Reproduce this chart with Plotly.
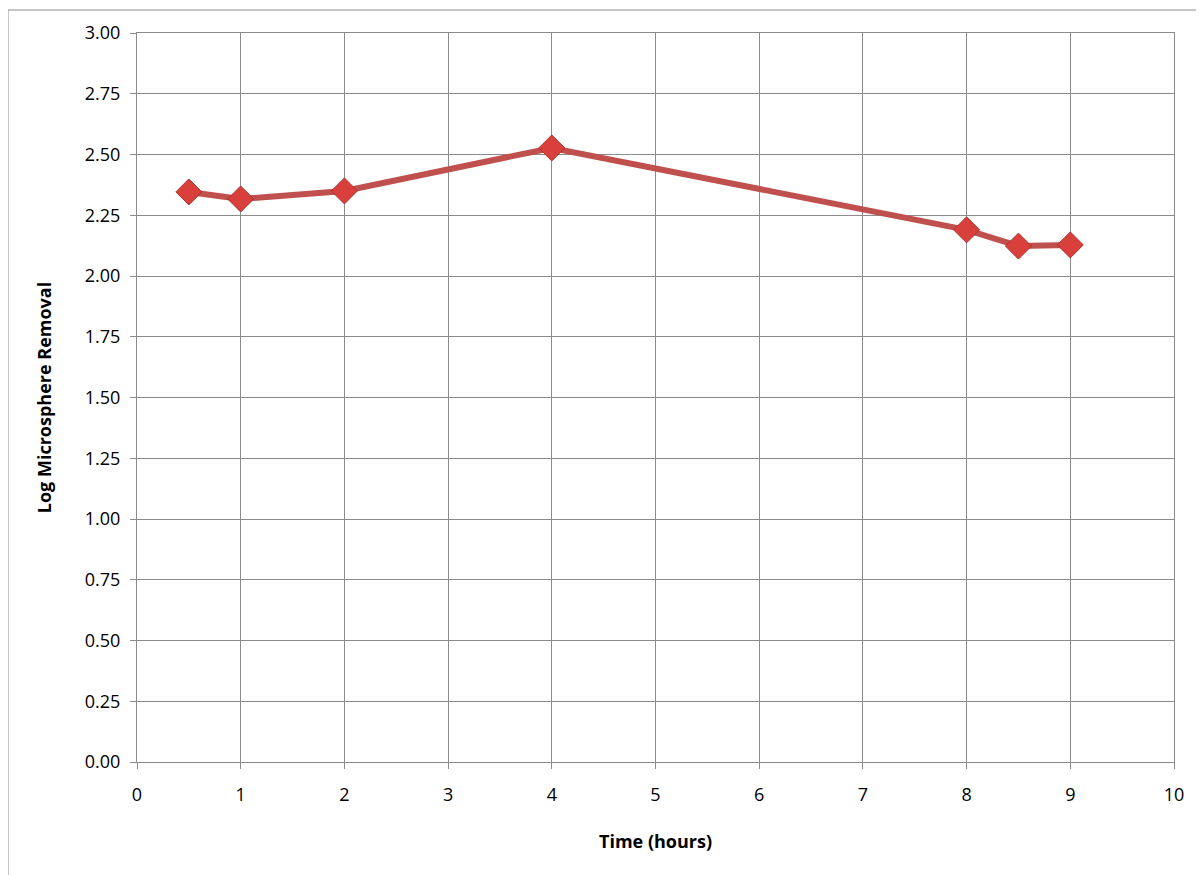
import plotly.graph_objects as go

# Tiempo (horas) y remoción logarítmica de microesferas
time_hours = [0.5, 1, 2, 4, 8, 8.5, 9]
log_removal = [2.346, 2.317, 2.35, 2.527, 2.19, 2.123, 2.128]

fig = go.Figure()
fig.add_trace(go.Scatter(
    x=time_hours, y=log_removal, mode="lines+markers",
    line=dict(color="#C0504D", width=6),
    marker=dict(symbol="diamond", size=20, color="#D9403B",
                line=dict(color="#A8322E", width=1)),
))

# la página desplaza la figura ~8px, se compensa en los márgenes
W, H = 1204, 875
L, R, T, B = 129, 38, 25, 121
pw, ph = W - L - R, H - T - B

fig.update_layout(
    width=W, height=H,
    margin=dict(l=L, r=R, t=T, b=B),
    plot_bgcolor="white", paper_bgcolor="white",
    showlegend=False,
    font=dict(family="Open Sans, Liberation Sans, sans-serif", size=18, color="black"),
    xaxis=dict(range=[0, 10], dtick=1, showgrid=True, gridcolor="#8C8C8C",
               linecolor="#8C8C8C", ticks="outside", tickcolor="#8C8C8C",
               ticklen=6, zeroline=False, mirror=True, ticklabelstandoff=10,
               title=dict(text="<b>Time (hours)</b>", font=dict(size=18), standoff=30)),
    yaxis=dict(range=[0, 3], dtick=0.25, tickformat=".2f", showgrid=True,
               gridcolor="#8C8C8C", linecolor="#8C8C8C", ticks="outside",
               tickcolor="#8C8C8C", ticklen=6, zeroline=False, mirror=True,
               ticklabelstandoff=6,
               title=dict(text="<b>Log Microsphere Removal</b>", font=dict(size=18), standoff=28)),
    shapes=[dict(type="rect", xref="paper", yref="paper",
                 x0=(0 - L) / pw, x1=(W + 20 - L) / pw,
                 y0=-(B + 20) / ph, y1=1 + (T - 2) / ph,
                 line=dict(color="#8C8C8C", width=1))],
)

fig.write_html("out.html")
